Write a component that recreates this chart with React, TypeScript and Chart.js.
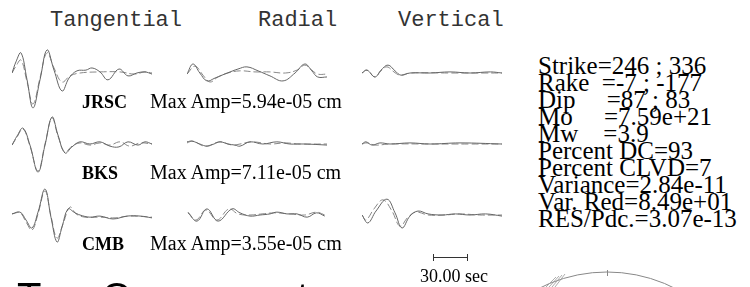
import React, { useEffect, useRef } from "react";
import { Chart, registerables } from "chart.js";

Chart.register(...registerables);

type Pt = [number, number];

// ---------------- data (time in s, amplitude normalised to station max) ----------------
const COMPONENTS = ["Tangential", "Radial", "Vertical"];
const STATIONS = ["JRSC", "BKS", "CMB"];
const MAX_AMPS = ["5.94e-05", "7.11e-05", "3.55e-05"];
const SCALE_BAR_SEC = 30;
const SCALE_BAR_LABEL = "30.00 sec";
const SOLUTION_LINES = [
  "Strike=246 ; 336",
  "Rake  =-7 ; -177",
  "Dip     =87 ; 83",
  "Mo     =7.59e+21",
  "Mw    =3.9",
  "Percent DC=93",
  "Percent CLVD=7",
  "Variance=2.84e-11",
  "Var. Red=8.49e+01",
  "RES/Pdc.=3.07e-13",
];
const FOOTER_TEXT = "Two Components";

// JRSC
const JRSC_TAN_OBS: Pt[] = [[0,0],[3.4,0.31],[7.7,0.56],[12.9,-0.19],[18,-0.97],[24,-0.19],[30,0.64],[36,0.08],[42.9,-0.5],[48.9,-0.14],[55.7,0.06],[63.4,0.08],[68.6,0.14],[75.4,0.03],[82.3,-0.19],[91.7,0.11],[99.4,-0.08],[107,0],[114,0.03],[120,-0.03]];
const JRSC_TAN_SYN: Pt[] = [[0,0],[3.4,0.19],[7.7,0.36],[12.9,-0.25],[18,-0.86],[24,-0.14],[30,0.56],[36,0.14],[42.9,-0.25],[49.7,-0.08],[58.3,0],[75.4,0.03],[92.6,0.03],[105,-0.03],[114,0.03],[120,0]];
const JRSC_RAD_OBS: Pt[] = [[0,-0.03],[5.1,0.25],[11,0],[17.1,-0.22],[24,-0.14],[30,-0.06],[36.9,0.03],[43.7,0.11],[51.4,0.17],[60.9,0.06],[71.1,-0.08],[82.3,-0.22],[92.6,0],[101,0.25],[107,0.06],[112,-0.11],[120,-0.11]];
const JRSC_RAD_SYN: Pt[] = [[0,-0.03],[6.9,0.19],[13.7,-0.06],[19.7,-0.25],[26.6,-0.11],[35.1,0],[45.4,0.06],[58.3,0.03],[71.1,0.03],[84.3,0],[94.3,0.08],[101,0.22],[107,0.08],[112,-0.03],[120,-0.03]];
const JRSC_VER_OBS: Pt[] = [[0,0],[4.3,0.08],[11.1,-0.11],[16.3,0.08],[22.3,0.22],[28.3,0.06],[33.4,-0.06],[41.1,0],[58.3,0],[75.4,0.03],[92.6,0],[110,0.03],[120,0]];
const JRSC_VER_SYN: Pt[] = [[0,0],[4.3,0.08],[11.1,-0.11],[16.3,0.06],[21.4,0.17],[27.4,0.03],[32.6,-0.06],[41.1,0],[75.4,0],[120,0]];
// BKS
const BKS_TAN_OBS: Pt[] = [[0,-0.03],[4.3,0.22],[9.4,0.44],[15.4,-0.03],[22.3,-0.78],[28.3,-0.03],[34.3,0.75],[39.4,0.25],[45.4,-0.25],[51.4,-0.08],[58.3,0.06],[66.8,0],[75.4,0.06],[84,-0.06],[91.7,-0.08],[99.4,0.06],[108,-0.03],[114,0.06],[120,0]];
const BKS_TAN_SYN: Pt[] = [[0,-0.03],[4.3,0.19],[9.4,0.42],[15.4,-0.06],[22.3,-0.75],[28.3,0],[34.3,0.72],[39.4,0.22],[45.4,-0.22],[51.4,-0.06],[58.3,0.03],[66.8,-0.03],[75.4,0.03],[84,-0.03],[92.6,0.06],[101,-0.06],[110,0.03],[120,0]];
const BKS_RAD_OBS: Pt[] = [[0,0.06],[4.3,0.08],[11,0],[17.1,-0.06],[23.1,0],[28.3,0.06],[35.1,0],[41.1,-0.03],[45.4,-0.06],[54,0.06],[65,0],[77,0.06],[88,0],[101,0],[120,-0.03]];
const BKS_RAD_SYN: Pt[] = [[0,0.03],[5.1,0.08],[15.4,-0.06],[28.3,0.06],[38.6,-0.03],[45.4,0],[55.7,0.06],[71.1,0],[84,0.03],[97,0],[120,0]];
const BKS_VER_OBS: Pt[] = [[0,0],[3.4,0.06],[8.6,-0.03],[15.4,0.03],[24,0],[41.1,0.03],[58.3,0],[84,0.03],[120,0]];
const BKS_VER_SYN: Pt[] = [[0,0],[4.3,0.03],[11.1,-0.03],[24,0],[58.3,0],[92.6,0],[120,0]];
// CMB
const CMB_TAN_OBS: Pt[] = [[0,0.03],[6.9,0.08],[12,-0.14],[17.1,-0.36],[22.3,0.08],[28.3,0.72],[33.4,-0.06],[38.6,-0.75],[42.9,-0.33],[48,0.17],[53.1,0.08],[58.3,0],[66.8,-0.06],[75.4,-0.03],[86.6,-0.11],[98.6,-0.03],[110,-0.03],[120,-0.08]];
const CMB_TAN_SYN: Pt[] = [[0,0.03],[6.9,0.06],[12,-0.19],[17.1,-0.42],[22.3,0.03],[28.3,0.67],[33.4,-0.03],[38.6,-0.64],[43.7,-0.25],[49.7,0.22],[54.9,0.03],[62.6,-0.06],[75.4,-0.06],[88.3,-0.08],[101,-0.03],[120,-0.06]];
const CMB_RAD_OBS: Pt[] = [[0.9,0.06],[8.6,-0.17],[17.1,0.17],[26.6,-0.17],[38.6,0.17],[45.4,0.06],[54,-0.03],[62.6,0],[71.1,0.03],[77.1,0.08],[85.7,0.03],[94.3,0.03],[103,-0.06],[111,0.06],[118,-0.03]];
const CMB_RAD_SYN: Pt[] = [[0.9,0.08],[7.7,-0.14],[16.3,0.14],[25.7,-0.14],[36,0.17],[43.7,0.03],[54,0],[64.3,0.03],[75.4,0.06],[88.3,0.03],[101,0],[111,0.08],[118,0]];
const CMB_VER_OBS: Pt[] = [[0,0],[5.1,-0.22],[12,0.11],[21.4,0.44],[28.3,0.06],[34.3,-0.36],[41.1,-0.03],[48,0.11],[56.6,0.03],[68.6,0],[80,0.03],[92.6,0],[106,0.03],[120,-0.03]];
const CMB_VER_SYN: Pt[] = [[0,0],[3.4,-0.14],[10.3,0.17],[18,0.42],[25.7,0.11],[32.6,-0.31],[39.4,-0.06],[46.3,0.08],[56.6,0],[71,0],[84,0.03],[101,0],[120,0]];

const TRACES: [Pt[], Pt[]][][] = [
  [[JRSC_TAN_OBS, JRSC_TAN_SYN], [JRSC_RAD_OBS, JRSC_RAD_SYN], [JRSC_VER_OBS, JRSC_VER_SYN]],
  [[BKS_TAN_OBS, BKS_TAN_SYN], [BKS_RAD_OBS, BKS_RAD_SYN], [BKS_VER_OBS, BKS_VER_SYN]],
  [[CMB_TAN_OBS, CMB_TAN_SYN], [CMB_RAD_OBS, CMB_RAD_SYN], [CMB_VER_OBS, CMB_VER_SYN]],
];

// ---------------- layout ----------------
const W = 750;
const H = 287;
const DURATION = 120;
const PANEL_W = 140;
const PX_PER_SEC = PANEL_W / DURATION;
const PANEL_H = 90;
const AMP_RANGE = 1.25;
const PAD = 3;
const COL_X = [12, 187, 362];
const ROW_BASE = [73, 144, 215];
const HEADER_X = [50, 258, 398];
const HEADER_BASE = 27;
const LABEL_BASE = [108, 179, 250];
const STATION_X = 82;
const AMP_X = 150;
const TRACE_COLOR = "#666";
const SYN_COLOR = "#888";

const SERIF = "'Liberation Serif', 'Times New Roman', serif";
const MONO = "'Liberation Mono', 'Courier New', monospace";
const SANS = "'Liberation Sans', Arial, sans-serif";
const ASC: Record<string, number> = { serif: 0.8375, mono: 0.7665, sans: 0.8465 };

function Txt(props: { x: number; base: number; size: number; fam: "serif" | "mono" | "sans"; bold?: boolean; color?: string; children: React.ReactNode }) {
  const family = props.fam === "serif" ? SERIF : props.fam === "mono" ? MONO : SANS;
  return (
    <div
      style={{
        position: "absolute",
        left: props.x,
        top: props.base - ASC[props.fam] * props.size,
        fontFamily: family,
        fontSize: props.size,
        lineHeight: `${props.size}px`,
        fontWeight: props.bold ? 700 : 400,
        whiteSpace: "pre",
        color: props.color ?? "#000",
      }}
    >
      {props.children}
    </div>
  );
}

function Panel(props: { obs: Pt[]; syn: Pt[]; left: number; base: number }) {
  const ref = useRef<HTMLCanvasElement>(null);
  useEffect(() => {
    const chart = new Chart(ref.current!, {
      type: "line",
      data: {
        datasets: [
          {
            data: props.obs.map(([x, y]) => ({ x, y })),
            borderColor: TRACE_COLOR,
            borderWidth: 1,
            pointRadius: 0,
            tension: 0.4,
            fill: false,
          },
          {
            data: props.syn.map(([x, y]) => ({ x, y })),
            borderColor: SYN_COLOR,
            borderWidth: 1,
            borderDash: [7, 3],
            pointRadius: 0,
            tension: 0.4,
            fill: false,
          },
        ],
      },
      options: {
        responsive: false,
        animation: false,
        events: [],
        layout: { padding: { left: PAD, right: PAD, top: 0, bottom: 0 } },
        plugins: { legend: { display: false }, tooltip: { enabled: false }, title: { display: false } },
        scales: {
          x: { type: "linear", min: 0, max: DURATION, display: false },
          y: { type: "linear", min: -AMP_RANGE, max: AMP_RANGE, display: false },
        },
      },
    });
    return () => chart.destroy();
  }, []);
  return (
    <canvas
      ref={ref}
      width={PANEL_W + 2 * PAD}
      height={PANEL_H}
      style={{ position: "absolute", left: props.left - PAD, top: props.base - PANEL_H / 2, width: PANEL_W + 2 * PAD, height: PANEL_H, display: "block" }}
    />
  );
}

export default function App() {
  useEffect(() => {
    document.body.style.margin = "0";
  }, []);
  const barX = 433;
  const barY = 257;
  const barW = SCALE_BAR_SEC * PX_PER_SEC;
  const bbR = 150;
  const bbCx = 607;
  const bbTop = 272;
  return (
    <div style={{ position: "fixed", left: 0, top: 0, width: W, height: H, overflow: "hidden", background: "#fff" }}>
      {COMPONENTS.map((c, i) => (
        <Txt key={c} x={HEADER_X[i]} base={HEADER_BASE} size={22} fam="mono" color="#333">{c}</Txt>
      ))}
      {TRACES.map((row, r) =>
        row.map((pair, c) => <Panel key={`${r}-${c}`} obs={pair[0]} syn={pair[1]} left={COL_X[c]} base={ROW_BASE[r]} />)
      )}
      {STATIONS.map((s, r) => (
        <React.Fragment key={s}>
          <Txt x={STATION_X} base={LABEL_BASE[r]} size={18} fam="serif" bold>{s}</Txt>
          <Txt x={AMP_X} base={LABEL_BASE[r]} size={20} fam="serif">{`Max Amp=${MAX_AMPS[r]} cm`}</Txt>
        </React.Fragment>
      ))}
      {SOLUTION_LINES.map((l, i) => (
        <Txt key={l} x={538} base={74 + i * 16.95} size={25} fam="serif">{l}</Txt>
      ))}
      <svg width={W} height={H} style={{ position: "absolute", left: 0, top: 0 }}>
        <line x1={barX} y1={barY + 0.5} x2={barX + barW} y2={barY + 0.5} stroke="#333" strokeWidth={1} />
        <line x1={barX + 0.5} y1={barY - 3} x2={barX + 0.5} y2={barY + 4} stroke="#333" strokeWidth={1} />
        <line x1={barX + barW - 0.5} y1={barY - 3} x2={barX + barW - 0.5} y2={barY + 4} stroke="#333" strokeWidth={1} />
        <circle cx={bbCx} cy={bbTop + bbR} r={bbR} fill="none" stroke="#888" strokeWidth={1} />
        <line x1={bbCx + 0.5} y1={bbTop - 2} x2={bbCx + 0.5} y2={bbTop + 4} stroke="#888" strokeWidth={1} />
        {[0, 1, 2, 3].map((k) => (
          <line key={k} x1={546 + k * 3} y1={287} x2={556 + k * 3} y2={277 - k} stroke="#999" strokeWidth={0.8} />
        ))}
      </svg>
      <Txt x={420} base={282} size={18} fam="serif">{SCALE_BAR_LABEL}</Txt>
      <Txt x={17} base={311} size={40} fam="sans">{FOOTER_TEXT}</Txt>
    </div>
  );
}
